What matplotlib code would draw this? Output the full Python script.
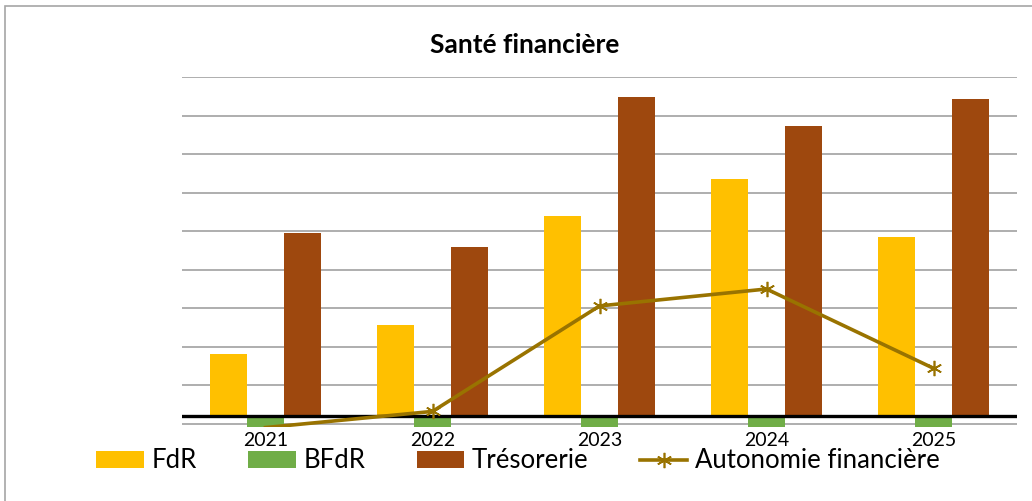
import numpy as np
import matplotlib.pyplot as plt
from matplotlib.patches import Rectangle

# ===========================
# Data
# ===========================
years = ["2021", "2022", "2023", "2024", "2025"]
fdr = [807, 1185, 2600, 3085, 2320]
bfdr = [-140, -140, -140, -140, -140]
tresorerie = [2375, 2200, 4140, 3765, 4115]
autonomie = [-150, 60, 1430, 1650, 620]

COL_FDR = "#ffc000"
COL_BFDR = "#70ad47"
COL_TRES = "#9e480e"
COL_LINE = "#997300"

W, H = 1032, 501
plt.rcParams["font.family"] = ["Lato", "DejaVu Sans"]

fig = plt.figure(figsize=(W / 100, H / 100), dpi=100)
ax = fig.add_axes([182 / W, (H - 426.8) / H, (1017 - 182) / W, (426.8 - 77.3) / H])

# chart frame (only left / top edges visible in the reference)
fig.patches.append(Rectangle((5 / W, -0.1), 1.2, (H - 6) / H + 0.1,
                             transform=fig.transFigure, fill=False,
                             edgecolor="#a6a6a6", lw=1.2))

x = np.arange(len(years))
bw = 0.222
b1 = ax.bar(x - bw, fdr, bw, color=COL_FDR, label="FdR", zorder=2)
b2 = ax.bar(x, bfdr, bw, color=COL_BFDR, label="BFdR", zorder=2)
b3 = ax.bar(x + bw, tresorerie, bw, color=COL_TRES, label="Trésorerie", zorder=2)
# first point sits below the plot area, so its marker is not shown
ln, = ax.plot(x, autonomie, color=COL_LINE, lw=2.6, marker=(6, 2, 0), ms=11,
              mew=1.2, markevery=[1, 2, 3, 4], label="Autonomie financière",
              zorder=4)

ax.set_xlim(-0.5, len(years) - 0.5)
ax.set_ylim(-140, 4400)
ax.set_yticks(np.arange(-100, 4401, 500))
ax.grid(axis="y", color="#999999", lw=1.1, zorder=0)
ax.axhline(0, color="black", lw=2.4, zorder=3)
ax.tick_params(axis="y", left=False, labelleft=False)
ax.tick_params(axis="x", bottom=False, labelsize=14, pad=0)
ax.set_xticks(x)
ax.set_xticklabels(years)
for s in ax.spines.values():
    s.set_visible(False)

fig.text(525 / W, 1 - 45 / H, "Santé financière", ha="center", va="center",
         fontsize=19, fontweight="bold")

fig.legend(handles=[b1, b2, b3, ln], loc="center",
           bbox_to_anchor=(518 / W, 1 - 461 / H), ncol=4,
           frameon=False, fontsize=18.5, handlelength=1.85, handleheight=0.6,
           columnspacing=2.0, handletextpad=0.3)

fig.savefig("out.png", dpi=100)
